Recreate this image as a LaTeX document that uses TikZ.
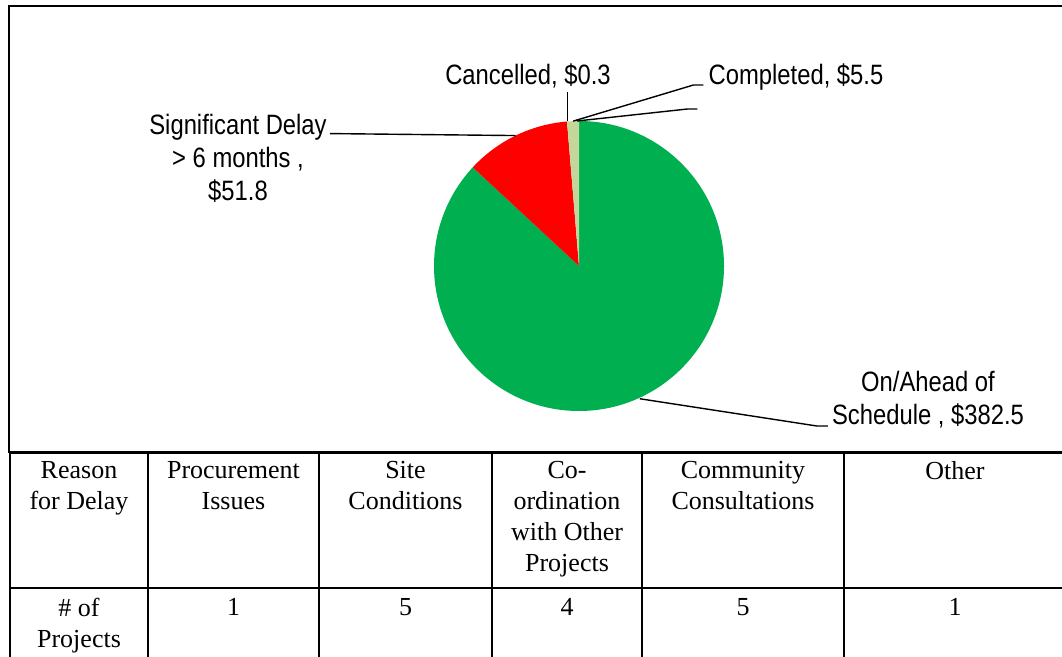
\documentclass[tikz,border=0pt]{standalone}
\usepackage{fontspec}
\setmainfont{Liberation Serif}
\newfontfamily\chartfont[FakeStretch=0.85]{Liberation Sans}
\usetikzlibrary{positioning}
\definecolor{ontime}{HTML}{00B050}
\definecolor{delayed}{HTML}{FF0000}
\definecolor{finished}{HTML}{C4D79B}

\begin{document}
\begin{tikzpicture}[x=1pt, y=1pt,
      lbl/.style={font={\chartfont\fontsize{28}{33}\selectfont}, align=center, inner sep=0pt},
      cell/.style={font={\fontsize{26}{31}\selectfont}, align=center, inner sep=0pt, anchor=north},
      leader/.style={line width=1.4pt},
      frame/.style={line width=2.2pt},
      grid/.style={line width=1.3pt}]
    \useasboundingbox (0,0) rectangle (1062,656);
    \clip (0,0) rectangle (1062,656);
    % chart area
    \draw[frame] (1075,204) -- (9,204) -- (9,650) -- (1075,650);
    % pie
    \coordinate (c) at (579,390);
    \fill[ontime] (c) -- ++(90:145) arc[start angle=90, end angle=-222.88, radius=145] -- cycle;
    \fill[delayed] (c) -- ++(137.12:145) arc[start angle=137.12, end angle=94.75, radius=145] -- cycle;
    \fill[finished] (c) -- ++(94.75:145) arc[start angle=94.75, end angle=90, radius=145] -- cycle;
    \coordinate (pSig) at ([shift={(115.9:145)}]c);
    \coordinate (pCan) at ([shift={(94.6:145)}]c);
    \coordinate (pComp) at ([shift={(92.3:145)}]c);
    \coordinate (pComp2) at ([shift={(90.8:145)}]c);
    \coordinate (pAhead) at ([shift={(-65.4:146)}]c);
    \node[lbl] (sig) at (238,498) {Significant Delay\\> 6 months ,\\\$51.8};
    \node[lbl] (cancel) at (528,580) {Cancelled, \$0.3};
    \node[lbl] (comp) at (796,579) {Completed, \$5.5};
    \node[lbl] (ahead) at (928,256) {On/Ahead of\\Schedule , \$382.5};
    \draw[leader] ([xshift=3pt,yshift=-20pt]sig.north east) -- ++(10,0) -- (pSig);
    \draw[leader] (cancel.south -| pCan) ++(0,-4) -- (pCan);
    \draw[leader] ([xshift=-5pt,yshift=-8pt]comp.west) -- ++(-10,0) -- (pComp);
    \draw[leader] ([xshift=-11pt,yshift=-32pt]comp.west) -- ++(-10,0) -- (pComp2);
    \draw[leader] ([xshift=-4pt,yshift=-26pt]ahead.west) -- ++(-11,0) -- (pAhead);
    % table
    \draw[grid] (10,203) -- (1075,203);
    \draw[grid] (10,68) -- (1075,68);
    \foreach \x in {10,148,319,492,642,844}
      \draw[grid] (\x,203) -- (\x,-5);
    \node[cell] (hReason) at (79,195) {Reason\\for Delay};
    \node[cell] (hProc) at (233.5,195) {Procurement\\Issues};
    \node[cell] (hSite) at (405.5,195) {Site\\Conditions};
    \node[cell] (hCoord) at (567,195) {Co-\\ordination\\with Other\\Projects};
    \node[cell] (hComm) at (743,195) {Community\\Consultations};
    \node[cell] (hOther) at (955,195) {Other};
    \node[cell] (vCount) at (79,58) {\# of\\Projects};
    \node[cell] (vProc) at (233.5,58) {1};
    \node[cell] (vSite) at (405.5,58) {5};
    \node[cell] (vCoord) at (567,58) {4};
    \node[cell] (vComm) at (743,58) {5};
    \node[cell] (vOther) at (955,58) {1};
  \end{tikzpicture}
\end{document}
